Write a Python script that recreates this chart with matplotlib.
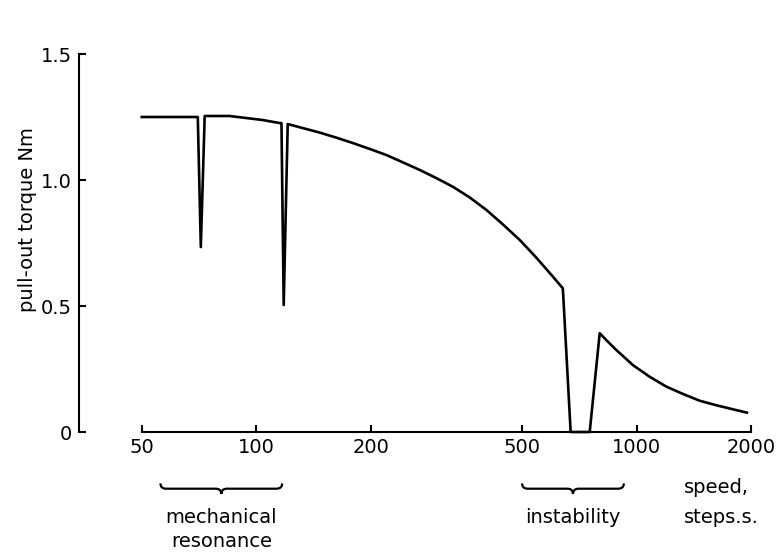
import numpy as np
import matplotlib
matplotlib.use("Agg")
import matplotlib.pyplot as plt
from matplotlib.path import Path
from matplotlib.patches import PathPatch
import matplotlib.transforms as mtransforms

# ---- data ----
speed = [50, 70.2, 71.5, 73.2, 85, 104, 115.3, 116.5, 118.1, 121,
         147, 162.5, 180, 199, 220, 243, 269, 298, 329, 364, 403, 445, 493, 545, 603, 640,
         671, 753, 800,
         841, 885, 931, 977, 1030, 1083, 1198, 1324, 1466, 1622, 1793, 1950]
torque = [1.25, 1.25, 0.734, 1.254, 1.254, 1.238, 1.226, 1.226, 0.504, 1.222,
          1.188, 1.168, 1.146, 1.123, 1.099, 1.070, 1.040, 1.007, 0.973, 0.931, 0.881, 0.824, 0.762, 0.692, 0.616, 0.570,
          0.0, 0.0, 0.392,
          0.358, 0.325, 0.295, 0.266, 0.242, 0.219, 0.180, 0.151, 0.124, 0.106, 0.090, 0.077]

x_ticks = [50, 100, 200, 500, 1000, 2000]
x_tick_labels = ["50", "100", "200", "500", "1000", "2000"]
y_ticks = [0, 0.5, 1.0, 1.5]
y_tick_labels = ["0", "0.5", "1.0", "1.5"]

resonance_span = [56, 117]
instability_span = [500, 926]
resonance_label = ["mechanical", "resonance"]
instability_label = "instability"
speed_label = ["speed,", "steps.s."]
y_label = "pull-out torque Nm"

FS = 14
plt.rcParams['font.family'] = ['DejaVu Sans']

W, H = 784, 557
fig = plt.figure(figsize=(W / 100, H / 100), dpi=100)
left_px, right_px, bottom_px, top_px = 79, 763, 432, 54
ax = fig.add_axes([left_px / W, 1 - bottom_px / H,
                   (right_px - left_px) / W, (bottom_px - top_px) / H])

ax.plot(speed, torque, color='black', lw=1.9, solid_joinstyle='round', clip_on=False)

ax.set_xscale('log')
ax.set_xlim(34.2, 2150)
ax.set_ylim(0, 1.5)

ax.set_xticks(x_ticks)
ax.set_xticklabels(x_tick_labels)
ax.xaxis.set_minor_locator(matplotlib.ticker.NullLocator())
ax.set_yticks(y_ticks)
ax.set_yticklabels(y_tick_labels)

ax.spines['top'].set_visible(False)
ax.spines['right'].set_visible(False)
ax.spines['bottom'].set_bounds(50, 2000)
ax.spines['left'].set_bounds(0, 1.5)
for s in ['bottom', 'left']:
    ax.spines[s].set_linewidth(1.5)

ax.tick_params(axis='both', direction='in', length=5, width=1.5, labelsize=FS)
ax.tick_params(axis='x', pad=4)
ax.tick_params(axis='y', pad=5)

ax.set_ylabel(y_label, fontsize=FS)
ax.yaxis.set_label_coords(-0.076, 0.563)
ax.yaxis.label.set_va('center')

trans = mtransforms.blended_transform_factory(ax.transData, ax.transAxes)

def brace(x0, x1, y0, h=0.014, curl=1.035):
    xm = np.sqrt(x0 * x1)
    verts = [(x0, y0 + h), (x0, y0), (x0 * curl, y0),
             (xm / curl, y0), (xm, y0), (xm, y0 - h),
             (xm, y0), (xm * curl, y0),
             (x1 / curl, y0), (x1, y0), (x1, y0 + h)]
    codes = [Path.MOVETO, Path.CURVE3, Path.CURVE3,
             Path.LINETO, Path.CURVE3, Path.CURVE3,
             Path.CURVE3, Path.CURVE3,
             Path.LINETO, Path.CURVE3, Path.CURVE3]
    p = PathPatch(Path(verts, codes), transform=trans, fill=False,
                  lw=1.6, color='black', clip_on=False)
    ax.add_patch(p)
    return xm

xm1 = brace(resonance_span[0], resonance_span[1], -0.150)
xm2 = brace(instability_span[0], instability_span[1], -0.150)

ax.text(xm1, -0.225, resonance_label[0], transform=trans, ha='center', va='center', fontsize=FS)
ax.text(xm1, -0.291, resonance_label[1], transform=trans, ha='center', va='center', fontsize=FS)
ax.text(xm2, -0.225, instability_label, transform=trans, ha='center', va='center', fontsize=FS)
ax.text(1331, -0.146, speed_label[0], transform=trans, ha='left', va='center', fontsize=FS)
ax.text(1331, -0.226, speed_label[1], transform=trans, ha='left', va='center', fontsize=FS)

fig.savefig("out.png", dpi=100)
